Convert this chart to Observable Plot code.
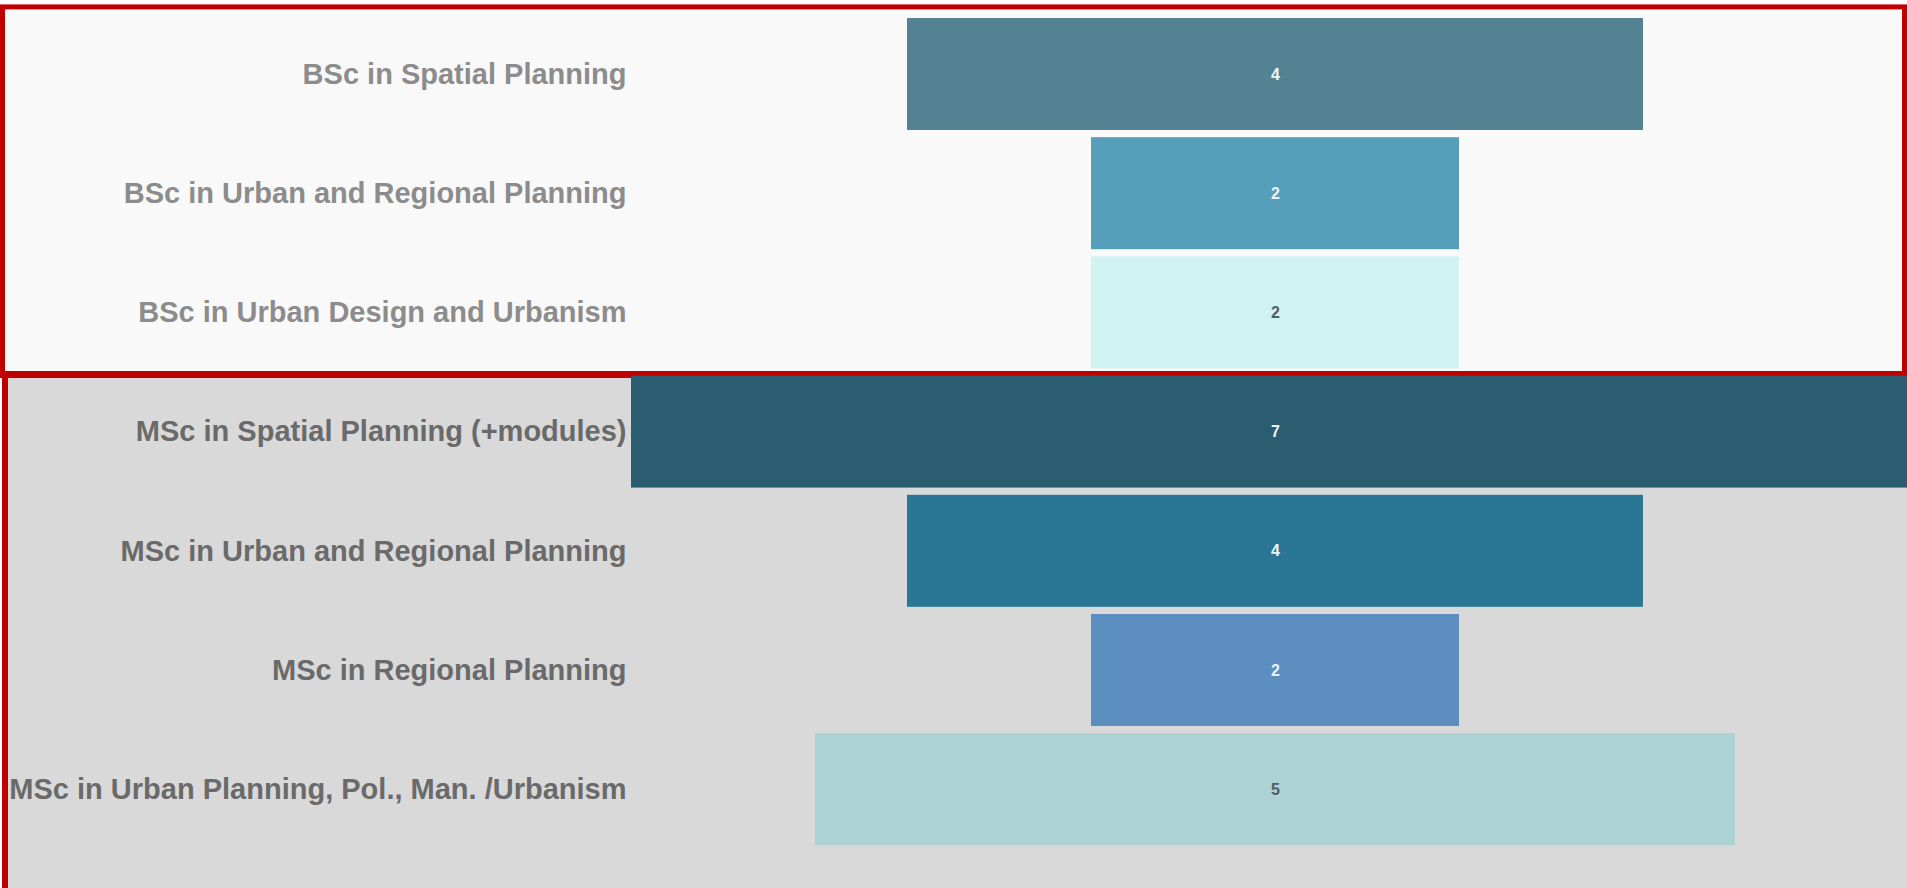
<!DOCTYPE html>
<html>
<head>
<meta charset="utf-8">
<script src="https://cdn.jsdelivr.net/npm/d3@7"></script>
<script src="https://cdn.jsdelivr.net/npm/@observablehq/plot@0.6"></script>
<style>
  html, body { margin: 0; padding: 0; background: #ffffff; overflow: hidden; }
  #chart svg { display: block; background: transparent; }
</style>
</head>
<body>
<div id="chart"></div>
<script>
// ---- data ----
const programs = [
  "BSc in Spatial Planning",
  "BSc in Urban and Regional Planning",
  "BSc in Urban Design and Urbanism",
  "MSc in Spatial Planning (+modules)",
  "MSc in Urban and Regional Planning",
  "MSc in Regional Planning",
  "MSc in Urban Planning, Pol., Man. /Urbanism"
];
const counts = [4, 2, 2, 7, 4, 2, 5];
const levels = ["BSc", "BSc", "BSc", "MSc", "MSc", "MSc", "MSc"];

const rows = programs.map((p, i) => ({program: p, count: counts[i], level: levels[i], row: i}));

// ---- styling ----
const palette = ["#538393", "#559fbb", "#d0f2f3", "#2a5d70", "#2a7795", "#5c8ec0", "#acd2d4"];
const colorOf = new Map(programs.map((p, i) => [p, palette[i]]));
const isLight = d => d3.hsl(colorOf.get(d.program)).l > 0.7;
const maxCount = d3.max(counts);
const nRows = programs.length;

// background sections (drawn via scales)
function sections(index, scales, values, dims) {
  const y = scales.y;
  const W = dims.width, H = dims.height;
  const firstMSc = levels.indexOf("MSc");
  const g = d3.create("svg:g");
  const top0 = y(0) - 7.5;
  const split = y(firstMSc) + 2.5;
  // MSc section
  g.append("rect").attr("x", 2).attr("y", split).attr("width", W - 2).attr("height", H - split)
    .attr("fill", "#d9d9d9");
  g.append("rect").attr("x", 2).attr("y", split).attr("width", 6).attr("height", H - split)
    .attr("fill", "#c00000");
  // BSc section
  g.append("rect").attr("x", 2.5).attr("y", top0).attr("width", W - 5).attr("height", split - top0)
    .attr("fill", "#f9f9f9").attr("stroke", "#c00000").attr("stroke-width", 5);
  g.append("rect").attr("x", 0).attr("y", split - 3.5).attr("width", W).attr("height", 7)
    .attr("fill", "#c00000");
  return g.node();
}

const chart = Plot.plot({
  width: 1907,
  height: 888,
  margin: 0,
  style: {fontFamily: "'Liberation Sans', Arial, sans-serif", background: "transparent"},
  x: {domain: [-maxCount / 2, maxCount / 2], range: [631, 1919], axis: null},
  y: {domain: [0, nRows], range: [14.4, 848.8], axis: null},
  color: {type: "ordinal", domain: programs, range: palette},
  marks: [
    sections,
    Plot.rect(rows, {
      x1: d => -d.count / 2, x2: d => d.count / 2,
      y1: "row", y2: d => d.row + 1,
      insetTop: 3.6, insetBottom: 3.6,
      fill: "program", clip: true
    }),
    Plot.text(rows.filter(d => !isLight(d)), {
      x: 0, y: d => d.row + 0.5, text: d => String(d.count),
      fill: "#eef4f5", fontSize: 16, fontWeight: "bold"
    }),
    Plot.text(rows.filter(d => isLight(d)), {
      x: 0, y: d => d.row + 0.5, text: d => String(d.count),
      fill: "#4f5f66", fontSize: 16, fontWeight: "bold"
    }),
    Plot.text(rows.filter(d => d.level === "BSc"), {
      x: -maxCount / 2, y: d => d.row + 0.5, text: "program",
      textAnchor: "end", dx: -5, fill: "#8c8c8c", fontSize: 29, fontWeight: "bold"
    }),
    Plot.text(rows.filter(d => d.level === "MSc"), {
      x: -maxCount / 2, y: d => d.row + 0.5, text: "program",
      textAnchor: "end", dx: -5, fill: "#6a6a6a", fontSize: 29, fontWeight: "bold"
    })
  ]
});
document.getElementById("chart").appendChild(chart);
</script>
</body>
</html>
